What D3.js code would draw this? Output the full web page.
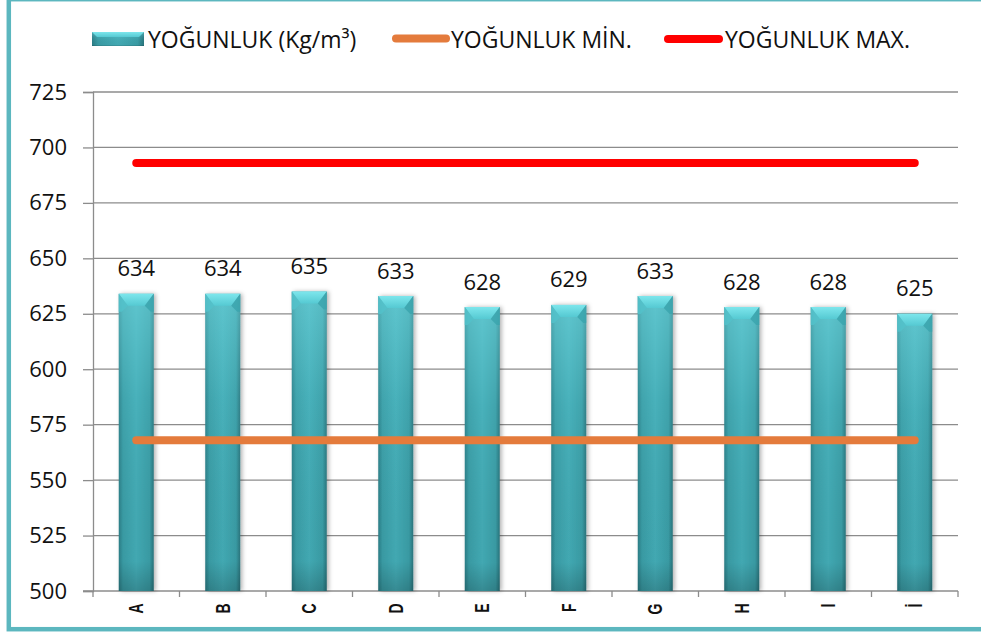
<!DOCTYPE html>
<html>
<head>
<meta charset="utf-8">
<script src="https://cdn.jsdelivr.net/npm/d3@7"></script>
<style>
  html, body { margin: 0; padding: 0; background: #ffffff; }
  svg { display: block; }
</style>
</head>
<body>
<div id="chart"></div>
<script>
// Density per sample, with the lower and upper limits
const categories = ["A", "B", "C", "D", "E", "F", "G", "H", "I", "İ"];
const density = [634, 634, 635, 633, 628, 629, 633, 628, 628, 625];
const densityMin = 568;
const densityMax = 693;
const yTicks = [500, 525, 550, 575, 600, 625, 650, 675, 700, 725];
const legendLabels = ["YOĞUNLUK (Kg/m³)", "YOĞUNLUK MİN.", "YOĞUNLUK MAX."];

const W = 981, H = 641;
const margin = { left: 93, right: 23, top: 92, bottom: 50 };
const font = "'Open Sans', 'Noto Sans', sans-serif";
const textSize = 22;

const svg = d3.select("#chart").append("svg")
  .attr("width", W).attr("height", H);

const defs = svg.append("defs");
const barGrad = defs.append("linearGradient").attr("id", "barGrad")
  .attr("x1", "0%").attr("x2", "100%").attr("y1", "0%").attr("y2", "0%");
[[0, "#2b7f88"], [0.12, "#3a9ea7"], [0.5, "#44adb7"], [0.88, "#3a9ea7"], [1, "#2a767e"]]
  .forEach(([o, c]) => barGrad.append("stop").attr("offset", o).attr("stop-color", c));
const capGrad = defs.append("linearGradient").attr("id", "capGrad")
  .attr("x1", "0%").attr("x2", "0%").attr("y1", "0%").attr("y2", "100%");
[[0, "#7de6ec"], [1, "#55c9d2"]]
  .forEach(([o, c]) => capGrad.append("stop").attr("offset", o).attr("stop-color", c));
const tintGrad = defs.append("linearGradient").attr("id", "tintGrad")
  .attr("x1", "0%").attr("x2", "0%").attr("y1", "0%").attr("y2", "100%");
[[0, "#7fe3ea", 0.45], [0.35, "#7fe3ea", 0.08], [0.9, "#000000", 0.03], [1, "#000000", 0.2]]
  .forEach(([o, c, a]) => tintGrad.append("stop").attr("offset", o)
    .attr("stop-color", c).attr("stop-opacity", a));
const shadow = defs.append("filter").attr("id", "barShadow")
  .attr("x", "-30%").attr("y", "-5%").attr("width", "160%").attr("height", "110%");
shadow.append("feDropShadow").attr("dx", 2).attr("dy", 0).attr("stdDeviation", 2)
  .attr("flood-color", "#000").attr("flood-opacity", 0.3);

// Chart frame
svg.append("rect")
  .attr("x", 8.8).attr("y", -0.8).attr("width", W + 20).attr("height", 630)
  .attr("fill", "#ffffff").attr("stroke", "#5cb7bf").attr("stroke-width", 4.5);

const x = d3.scaleBand().domain(categories)
  .range([margin.left, W - margin.right]).paddingInner(0).paddingOuter(0);
const y = d3.scaleLinear().domain([500, 725])
  .range([H - margin.bottom, margin.top]);

// Horizontal gridlines
svg.append("g").selectAll("line").data(yTicks.slice(1)).join("line")
  .attr("x1", margin.left).attr("x2", W - margin.right)
  .attr("y1", d => y(d)).attr("y2", d => y(d))
  .attr("stroke", "#8c8c8c").attr("stroke-width", 1.3);

// Y axis
const yAxis = svg.append("g")
  .attr("transform", `translate(${margin.left},0)`)
  .call(d3.axisLeft(y).tickValues(yTicks).tickSize(10).tickPadding(16));
yAxis.select(".domain").attr("stroke", "#8c8c8c").attr("stroke-width", 1.3);
yAxis.selectAll(".tick line").attr("stroke", "#8c8c8c").attr("stroke-width", 1.3);
yAxis.selectAll(".tick text")
  .attr("font-family", font).attr("font-size", textSize).attr("fill", "#111");

// X axis with ticks on category boundaries
const xAxisG = svg.append("g");
xAxisG.append("line")
  .attr("x1", margin.left - 10).attr("x2", W - margin.right)
  .attr("y1", y(500)).attr("y2", y(500))
  .attr("stroke", "#8c8c8c").attr("stroke-width", 1.3);
const bounds = categories.map(c => x(c)).concat([x(categories[categories.length - 1]) + x.bandwidth()]);
xAxisG.selectAll("line.tk").data(bounds).join("line").attr("class", "tk")
  .attr("x1", d => d).attr("x2", d => d)
  .attr("y1", y(500)).attr("y2", y(500) + 6)
  .attr("stroke", "#8c8c8c").attr("stroke-width", 1.3);
xAxisG.selectAll("text").data(categories).join("text")
  .attr("transform", d => `translate(${x(d) + x.bandwidth() / 2},603.5) rotate(-90) scale(1,1.4)`)
  .attr("text-anchor", "end").attr("dy", "0.36em")
  .attr("font-family", "'Liberation Sans', Arial, sans-serif")
  .attr("font-size", 14).attr("font-weight", 600).attr("fill", "#111")
  .text(d => d);

// Bars
const barW = 35, capH = 12, inset = 9;
const data = categories.map((c, i) => ({ cat: c, v: density[i] }));
const bars = svg.append("g").selectAll("g").data(data).join("g");
const barX = d => x(d.cat) + x.bandwidth() / 2 - barW / 2;
bars.append("rect")
  .attr("x", barX).attr("y", d => y(d.v))
  .attr("width", barW).attr("height", d => y(500) - y(d.v))
  .attr("fill", "url(#barGrad)").attr("filter", "url(#barShadow)");
bars.append("rect")
  .attr("x", barX).attr("y", d => y(d.v))
  .attr("width", barW).attr("height", d => y(500) - y(d.v))
  .attr("fill", "url(#tintGrad)");
bars.append("path")
  .attr("d", d => {
    const l = barX(d), r = l + barW, t = y(d.v);
    return `M${l},${t}L${r},${t}L${r - inset},${t + capH}L${l + inset},${t + capH}Z`;
  })
  .attr("fill", "url(#capGrad)");
bars.append("path")
  .attr("d", d => {
    const l = barX(d), t = y(d.v);
    return `M${l},${t}L${l + inset},${t + capH}L${l + 3},${t + capH + 6}L${l},${t + capH + 6}Z`;
  })
  .attr("fill", "#52c2cb").attr("opacity", 0.8);
bars.append("path")
  .attr("d", d => {
    const r = barX(d) + barW, t = y(d.v);
    return `M${r},${t}L${r - inset},${t + capH}L${r - 3},${t + capH + 6}L${r},${t + capH + 6}Z`;
  })
  .attr("fill", "#3aa4ad").attr("opacity", 0.8);

// Value labels
bars.append("text")
  .attr("x", d => x(d.cat) + x.bandwidth() / 2)
  .attr("y", d => y(d.v) - 17.5)
  .attr("text-anchor", "middle")
  .attr("font-family", font).attr("font-size", textSize).attr("fill", "#111")
  .text(d => d.v);

// Limit lines spanning the first to last category centres
const xFirst = x(categories[0]) + x.bandwidth() / 2;
const xLast = x(categories[categories.length - 1]) + x.bandwidth() / 2;
const limitLine = d3.line().x(d => d[0]).y(d => d[1]);
svg.append("path")
  .attr("d", limitLine([[xFirst, y(densityMin)], [xLast, y(densityMin)]]))
  .attr("stroke", "#e47b3c").attr("stroke-width", 8).attr("stroke-linecap", "round").attr("fill", "none");
svg.append("path")
  .attr("d", limitLine([[xFirst, y(densityMax)], [xLast, y(densityMax)]]))
  .attr("stroke", "#ff0000").attr("stroke-width", 8).attr("stroke-linecap", "round").attr("fill", "none");

// Legend
const legend = svg.append("g").attr("font-family", font).attr("font-size", 23).attr("fill", "#111");
const lg1 = legend.append("g");
lg1.append("rect").attr("x", 92).attr("y", 32).attr("width", 52).attr("height", 14).attr("fill", "url(#barGrad)");
lg1.append("rect").attr("x", 92).attr("y", 32).attr("width", 52).attr("height", 14).attr("fill", "url(#tintGrad)");
lg1.append("path").attr("d", "M92,32L144,32L139,37L97,37Z").attr("fill", "url(#capGrad)");
lg1.append("text").attr("x", 148).attr("y", 47.5).text(legendLabels[0]);
const lg2 = legend.append("g");
lg2.append("line").attr("x1", 396).attr("x2", 446).attr("y1", 38.5).attr("y2", 38.5)
  .attr("stroke", "#e47b3c").attr("stroke-width", 8).attr("stroke-linecap", "round");
lg2.append("text").attr("x", 451).attr("y", 47.5).text(legendLabels[1]);
const lg3 = legend.append("g");
lg3.append("line").attr("x1", 668).attr("x2", 719).attr("y1", 39).attr("y2", 39)
  .attr("stroke", "#ff0000").attr("stroke-width", 8).attr("stroke-linecap", "round");
lg3.append("text").attr("x", 725).attr("y", 47.5).text(legendLabels[2]);
</script>
</body>
</html>
